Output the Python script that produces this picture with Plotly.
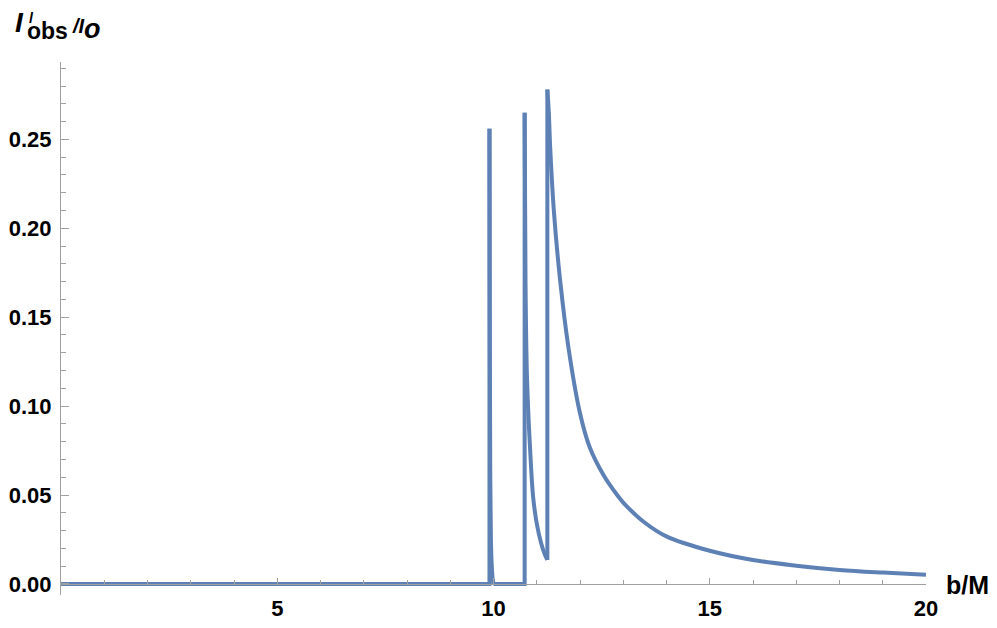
import plotly.graph_objects as go

# intensity profile (b/M vs I_obs/I_o), split where the curve jumps
base_b = [0.0, 9.907, 9.907]
base_I = [0.0, 0.0, 0.256]

ring1_b = [9.907, 9.915, 9.925, 9.94, 9.96, 9.98, 10.0]
ring1_I = [0.256, 0.15, 0.06, 0.025, 0.01, 0.003, 0.0]

gap_b = [10.0, 10.72, 10.72]
gap_I = [0.0, 0.0, 0.265]

ring2_b = [10.72, 10.74, 10.77, 10.82, 10.87, 10.92, 11.0, 11.1, 11.18, 11.245]
ring2_I = [0.265, 0.17, 0.12, 0.088, 0.065, 0.048, 0.034, 0.023, 0.017, 0.0135]

jump_b = [11.245, 11.245]
jump_I = [0.0135, 0.278]

disk_b = [11.245, 11.28, 11.31, 11.40, 11.54, 11.73, 12.0, 12.22, 12.55, 12.86, 13.01,
          13.47, 14.01, 15.0, 16.0, 17.0, 18.0, 19.0, 20.0]
disk_I = [0.278, 0.2646, 0.2458, 0.2084, 0.1709, 0.1334, 0.096, 0.0772, 0.061, 0.050, 0.0455,
          0.035, 0.0266, 0.0187, 0.0135, 0.0103, 0.0079, 0.0064, 0.0052]

x_ticks = [5, 10, 15, 20]
y_ticks = [0.0, 0.05, 0.10, 0.15, 0.20, 0.25]

# the page body has an 8px margin, so the figure is sized and placed to fit inside it
OFF = 8
W, H = 997 - 2 * OFF, 628 - 2 * OFF
L, T = 61 - OFF, 62 - OFF
R = W - (926 - OFF)
B = H - (595 - OFF)
y_lo, y_hi = -0.0062, 0.2935

LINE_COL = '#5E81B5'
AXIS_COL = '#a0a0a0'
FONT = 'Liberation Sans'


def px(x):
    # page pixel -> paper fraction
    return (x - OFF - L) / (W - L - R)


def py(y):
    return 1 - (y - OFF - T) / (H - T - B)


fig = go.Figure()
for xs, ys, shape in [(base_b, base_I, 'linear'), (ring1_b, ring1_I, 'spline'),
                      (gap_b, gap_I, 'linear'), (ring2_b, ring2_I, 'spline'),
                      (jump_b, jump_I, 'linear'), (disk_b, disk_I, 'spline')]:
    fig.add_trace(go.Scatter(
        x=xs, y=ys, mode='lines',
        line=dict(color=LINE_COL, width=4, shape=shape),
        showlegend=False, hoverinfo='x+y'
    ))

fig.update_layout(
    width=W, height=H,
    margin=dict(l=L, r=R, t=T, b=B),
    plot_bgcolor='white', paper_bgcolor='white',
    xaxis=dict(
        range=[0, 20], anchor='free', position=(0 - y_lo) / (y_hi - y_lo),
        automargin=False, showgrid=False, zeroline=False,
        showline=True, linecolor=AXIS_COL, linewidth=1,
        tickvals=x_ticks, ticks='inside', ticklen=6, tickcolor=AXIS_COL,
        tickfont=dict(family=FONT, size=22, color='black', weight='bold'),
        ticklabelstandoff=5,
        minor=dict(dtick=1, ticks='inside', ticklen=4, tickcolor=AXIS_COL),
    ),
    yaxis=dict(
        range=[y_lo, y_hi], automargin=False,
        showgrid=False, zeroline=False,
        showline=True, linecolor=AXIS_COL, linewidth=1,
        tickvals=y_ticks, tickformat='.2f', ticks='inside', ticklen=8, tickcolor=AXIS_COL,
        tickfont=dict(family=FONT, size=22, color='black', weight='bold'),
        ticklabelstandoff=4,
        minor=dict(dtick=0.01, ticks='inside', ticklen=5, tickcolor=AXIS_COL),
    ),
)

# axis labels, built from pieces so the super/subscripts sit like the original
ann = [
    ('<b>b/M</b>', 944, 585, 25),
    ('<b><i>I</i></b>', 13, 23, 28),
    ('<b><i>l</i></b>', 27, 18, 14),
    ('<b>obs</b>', 25, 31, 23),
    ('<b><i>/I</i></b>', 70, 26, 20),
    ('<b><i>o</i></b>', 82, 29, 27),
]
for text, x, y, size in ann:
    fig.add_annotation(
        text=text, x=px(x), y=py(y), xref='paper', yref='paper',
        xanchor='left', yanchor='middle', showarrow=False,
        font=dict(family=FONT, size=size, color='black'),
    )

fig.write_html("out.html")
